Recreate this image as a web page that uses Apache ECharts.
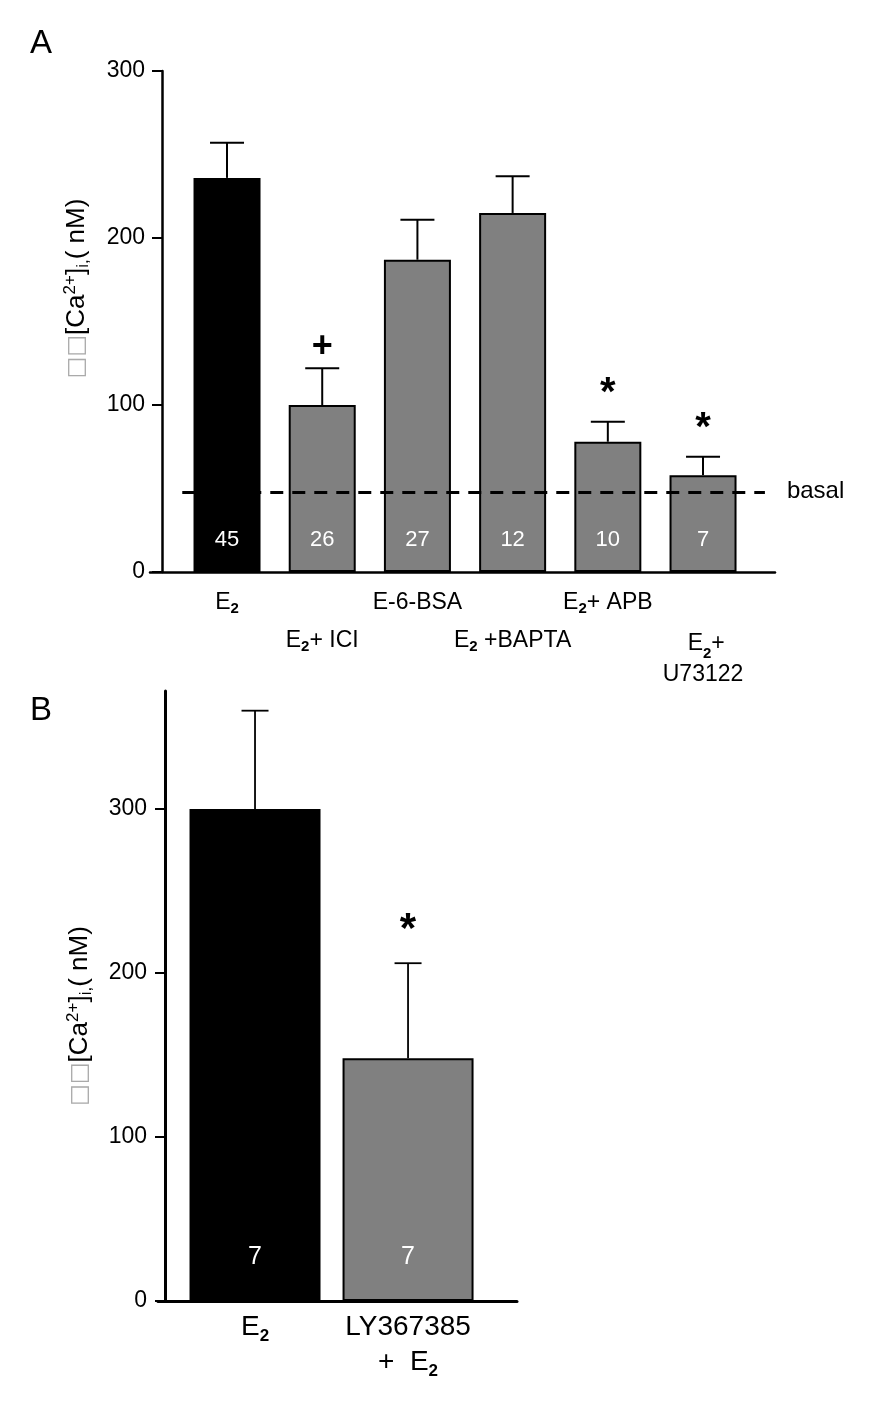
<!DOCTYPE html>
<html>
<head>
<meta charset="utf-8">
<script src="https://cdn.jsdelivr.net/npm/echarts@6/dist/echarts.min.js"></script>
<style>
html,body{margin:0;padding:0;background:#fff;}
#c{width:872px;height:1401px;}
</style>
</head>
<body>
<div id="c"></div>
<script>
// ---- Panel A data ----
const catsA = ['E2', 'E2+ ICI', 'E-6-BSA', 'E2 +BAPTA', 'E2+ APB', 'E2+\nU73122'];
const meanA = [236, 100, 187, 215, 78, 58];
const semA  = [21, 22, 24, 22, 12, 11];
const nA    = [45, 26, 27, 12, 10, 7];
const sigA  = ['', '+', '', '', '*', '*'];
const basalA = 48;
const ticksA = [0, 100, 200, 300];

// ---- Panel B data ----
const catsB = ['E2', 'LY367385\n+  E2'];
const meanB = [300, 148];
const semB  = [60, 58];
const nB    = [7, 7];
const sigB  = ['', '*'];
const ticksB = [0, 100, 200, 300];

const FONT = 'Liberation Sans, Arial, sans-serif';

function richLine(line) {
  const parts = line.split('E2');
  let out = '';
  parts.forEach((p, i) => {
    if (i > 0) out += '{a|E}{s|2}';
    if (p) out += '{a|' + p + '}';
  });
  return out;
}
function richLabel(str) {
  const lines = str.split('\n');
  if (lines.length > 1) {
    return lines.map((l, i) => (i === 0 ? '{sp| }' : '') + richLine(l)).join('\n');
  }
  return richLine(lines[0]);
}

function errRenderer(sigs, capW, lw, starSize, plusSize, starGap, plusGap) {
  return function (params, api) {
    const i = params.dataIndex;
    const x = api.value(0);
    const m = api.value(1);
    const top = api.value(2);
    const p0 = api.coord([x, m]);
    const p1 = api.coord([x, top]);
    const children = [
      { type: 'line', shape: { x1: p0[0], y1: p0[1], x2: p1[0], y2: p1[1] }, style: { stroke: '#000', lineWidth: lw } },
      { type: 'line', shape: { x1: p1[0] - capW / 2, y1: p1[1], x2: p1[0] + capW / 2, y2: p1[1] }, style: { stroke: '#000', lineWidth: lw } }
    ];
    const s = sigs[i];
    if (s) {
      const isStar = s === '*';
      children.push({
        type: 'text',
        x: p1[0], y: p1[1] - (isStar ? starGap : plusGap),
        style: {
          text: s, fill: '#000', align: 'center', verticalAlign: 'middle',
          font: 'bold ' + (isStar ? starSize : plusSize) + 'px ' + FONT
        }
      });
    }
    return { type: 'group', children: children };
  };
}

const xRichA = {
  a: { fontSize: 23, fontFamily: FONT, color: '#000', lineHeight: 27 },
  sp: { fontSize: 23, fontFamily: FONT, lineHeight: 34 },
  s: { fontSize: 15, fontFamily: FONT, fontWeight: 'bold', color: '#000', lineHeight: 8, verticalAlign: 'bottom' }
};
const xRichB = {
  a: { fontSize: 28, fontFamily: FONT, color: '#000', lineHeight: 35 },
  s: { fontSize: 17, fontFamily: FONT, fontWeight: 'bold', color: '#000', lineHeight: 10, verticalAlign: 'bottom' }
};
const nameRich = {
  b: { fontSize: 23, fontFamily: 'DejaVu Sans', color: '#aaa', lineHeight: 30 },
  t: { fontSize: 26, fontFamily: FONT, color: '#000', lineHeight: 30 },
  sup: { fontSize: 17, fontFamily: FONT, color: '#000', lineHeight: 16, verticalAlign: 'top' },
  sub: { fontSize: 17, fontFamily: FONT, color: '#000', lineHeight: 10, verticalAlign: 'bottom' }
};
const yName = '{b|\u25A1\u25A1}{t|[Ca}{sup|2+}{t|]}{sub|i,}{t|( nM)}';

const idxA = catsA.map((c, i) => i);
const idxB = catsB.map((c, i) => i);

const option = {
  animation: false,
  backgroundColor: '#fff',
  title: [
    { text: 'A', left: 25, top: 22, textStyle: { fontSize: 33, fontWeight: 'normal', fontFamily: FONT, color: '#000' } },
    { text: 'B', left: 25, top: 689, textStyle: { fontSize: 33, fontWeight: 'normal', fontFamily: FONT, color: '#000' } }
  ],
  grid: [
    { left: 150, width: 625, top: 71, height: 501 },
    { left: 158, width: 359, top: 691, height: 610 }
  ],
  xAxis: [
    { // A row 1
      type: 'value', gridIndex: 0, min: -0.809, max: 5.756, position: 'bottom',
      axisLine: { show: true, lineStyle: { color: '#000', width: 2.5 } },
      axisTick: { show: false }, splitLine: { show: false },
      axisLabel: {
        customValues: idxA.filter(i => i % 2 === 0), margin: 17,
        formatter: v => richLabel(catsA[Math.round(v)]), rich: xRichA, verticalAlign: 'top'
      }
    },
    { // A row 2
      type: 'value', gridIndex: 0, min: -0.809, max: 5.756, position: 'bottom',
      axisLine: { show: false }, axisTick: { show: false }, splitLine: { show: false },
      axisLabel: {
        customValues: idxA.filter(i => i % 2 === 1), margin: 55,
        formatter: v => richLabel(catsA[Math.round(v)]), rich: xRichA, verticalAlign: 'top'
      }
    },
    { // B
      type: 'value', gridIndex: 1, min: -0.634, max: 1.712, position: 'bottom',
      axisLine: { show: true, lineStyle: { color: '#000', width: 3 } },
      axisTick: { show: false }, splitLine: { show: false },
      axisLabel: {
        customValues: idxB, margin: 9,
        formatter: v => catsB[Math.round(v)].split('\n').map(l => richLine(l)).join('\n'),
        rich: xRichB, verticalAlign: 'top'
      }
    }
  ],
  yAxis: [
    {
      type: 'value', gridIndex: 0, min: 0, max: 300, interval: 100, offset: -12,
      axisLine: { show: true, onZero: false, lineStyle: { color: '#000', width: 2.5 } },
      axisTick: { show: true, length: 10, lineStyle: { color: '#000', width: 2 }, customValues: ticksA },
      axisLabel: { customValues: ticksA, fontSize: 23, fontFamily: FONT, color: '#000', margin: 17 },
      splitLine: { show: false },
      name: yName, nameLocation: 'middle', nameRotate: 90, nameGap: 70,
      nameTextStyle: { rich: nameRich, padding: [0, 0, 0, 66] }
    },
    {
      type: 'value', gridIndex: 1, min: 0, max: 372, offset: -7,
      axisLine: { show: true, onZero: false, lineStyle: { color: '#000', width: 3 } },
      axisTick: { show: true, length: 10, lineStyle: { color: '#000', width: 2 }, customValues: ticksB },
      axisLabel: { customValues: ticksB, fontSize: 23, fontFamily: FONT, color: '#000', margin: 18 },
      splitLine: { show: false },
      name: yName, nameLocation: 'middle', nameRotate: 90, nameGap: 70,
      nameTextStyle: { rich: nameRich, padding: [0, 40, 0, 0] }
    }
  ],
  series: [
    {
      type: 'bar', xAxisIndex: 0, yAxisIndex: 0, barWidth: 67,
      data: meanA.map((v, i) => ({
        value: [i, v],
        itemStyle: { color: i === 0 ? '#000' : '#808080', borderColor: '#000', borderWidth: 2 }
      })),
      label: {
        show: true, position: 'insideBottom', distance: 21,
        formatter: p => String(nA[p.dataIndex]),
        color: '#fff', fontSize: 22, fontFamily: FONT
      },
      markLine: {
        silent: true, symbol: ['none', 'none'],
        lineStyle: { color: '#000', type: [13, 9], width: 3 },
        label: { show: true, position: 'end', distance: 22, formatter: 'basal', color: '#000', fontSize: 24, fontFamily: FONT },
        data: [[{ coord: [-0.47, basalA] }, { coord: [5.65, basalA] }]]
      },
      z: 2
    },
    {
      type: 'custom', xAxisIndex: 0, yAxisIndex: 0,
      data: meanA.map((v, i) => [i, v, v + semA[i]]),
      renderItem: errRenderer(sigA, 34, 2, 40, 36, 28, 21),
      z: 3
    },
    {
      type: 'bar', xAxisIndex: 2, yAxisIndex: 1, barWidth: 131,
      data: meanB.map((v, i) => ({
        value: [i, v],
        itemStyle: { color: i === 0 ? '#000' : '#808080', borderColor: '#000', borderWidth: i === 0 ? 0 : 2 }
      })),
      label: {
        show: true, position: 'insideBottom', distance: 31,
        formatter: p => String(nB[p.dataIndex]),
        color: '#fff', fontSize: 25, fontFamily: FONT
      },
      z: 2
    },
    {
      type: 'custom', xAxisIndex: 2, yAxisIndex: 1,
      data: meanB.map((v, i) => [i, v, v + semB[i]]),
      renderItem: errRenderer(sigB, 27, 1.8, 42, 36, 33, 21),
      z: 3
    }
  ]
};

const chart = echarts.init(document.getElementById('c'), null, { renderer: 'canvas' });
chart.setOption(option);
</script>
</body>
</html>
